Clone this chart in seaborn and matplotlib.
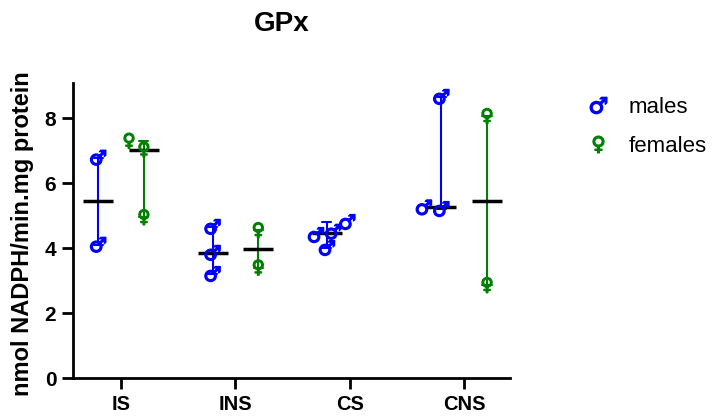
import numpy as np
import pandas as pd
import seaborn as sns
import matplotlib.pyplot as plt
from matplotlib.lines import Line2D

# values
groups = ["IS", "INS", "CS", "CNS"]
sexes = ["males", "females"]

males_IS = [6.78, 4.10]
males_INS = [4.65, 3.85, 3.20]
males_CS = [4.80, 4.50, 4.40, 4.00]
males_CNS = [8.65, 5.25, 5.20]

females_IS = [7.30, 7.03, 4.95]
females_INS = [4.55, 3.40]
females_CS = []
females_CNS = [8.06, 2.86]

rows = []
for g, vals in zip(groups, [males_IS, males_INS, males_CS, males_CNS]):
    for v in vals:
        rows.append((g, "males", v))
for g, vals in zip(groups, [females_IS, females_INS, females_CS, females_CNS]):
    for v in vals:
        rows.append((g, "females", v))
df = pd.DataFrame(rows, columns=["group", "sex", "value"])

pal = {"males": "#0000FF", "females": "#008000"}
blk = {"males": "black", "females": "black"}
mark = {"males": "$\u2642$", "females": "$\u2640$"}

sns.set_style("ticks")
plt.rcParams["font.family"] = ["Liberation Sans", "DejaVu Sans"]
plt.rcParams["text.color"] = "black"
plt.rcParams["axes.labelcolor"] = "black"

fig = plt.figure(figsize=(7.17, 4.16), dpi=100)
ax = fig.add_axes([0.1018, 0.0913, 0.6094, 0.7092])

# range bars (min - max)
sns.pointplot(data=df, x="group", y="value", hue="sex", order=groups,
              hue_order=sexes, palette=pal, estimator="median",
              errorbar=("pi", 100), dodge=0.4, markers="o", markersize=0,
              linestyles="none", capsize=0.08, err_kws={"linewidth": 1.5},
              legend=False, ax=ax)

# individual points
for s in sexes:
    sns.swarmplot(data=df[df["sex"] == s], x="group", y="value", hue="sex",
                  order=groups, hue_order=sexes, palette=pal, dodge=True,
                  marker=mark[s], size=11, linewidth=1, edgecolor=pal[s],
                  legend=False, ax=ax, warn_thresh=1)

# median line
sns.pointplot(data=df, x="group", y="value", hue="sex", order=groups,
              hue_order=sexes, palette=blk, estimator="median",
              errorbar=None, dodge=0.4, markers="_", markersize=21,
              markeredgewidth=2.5, linestyles="none", legend=False, ax=ax)

ax.set_xlim(-0.42, 3.4)
ax.set_ylim(0, 9.08)
ax.set_yticks([0, 2, 4, 6, 8])
ax.set_xlabel("")
ax.set_ylabel("nmol NADPH/min.mg protein", fontsize=17, fontweight="bold")
ax.yaxis.set_label_coords(-0.09, 0.49)
sns.despine(ax=ax)
for sp in ["left", "bottom"]:
    ax.spines[sp].set_linewidth(2)
    ax.spines[sp].set_color("black")
ax.tick_params(axis="both", direction="out", length=8, width=2, colors="black",
               labelsize=15, pad=4)
ax.tick_params(axis="x", labelsize=14.5, pad=4)
for lab in ax.get_xticklabels() + ax.get_yticklabels():
    lab.set_fontweight("bold")

fig.text(282 / 717, 1 - 24 / 416, "GPx", ha="center", va="center",
         fontsize=20, fontweight="bold")

handles = [Line2D([], [], marker=mark[s], color=pal[s], linestyle="none",
                  markersize=12) for s in sexes]
fig.legend(handles, sexes, loc="upper left", bbox_to_anchor=(0.79, 0.815),
           frameon=False, fontsize=16, handlelength=1.0, handletextpad=0.9,
           labelspacing=0.8)

fig.savefig("out.png", dpi=100)
